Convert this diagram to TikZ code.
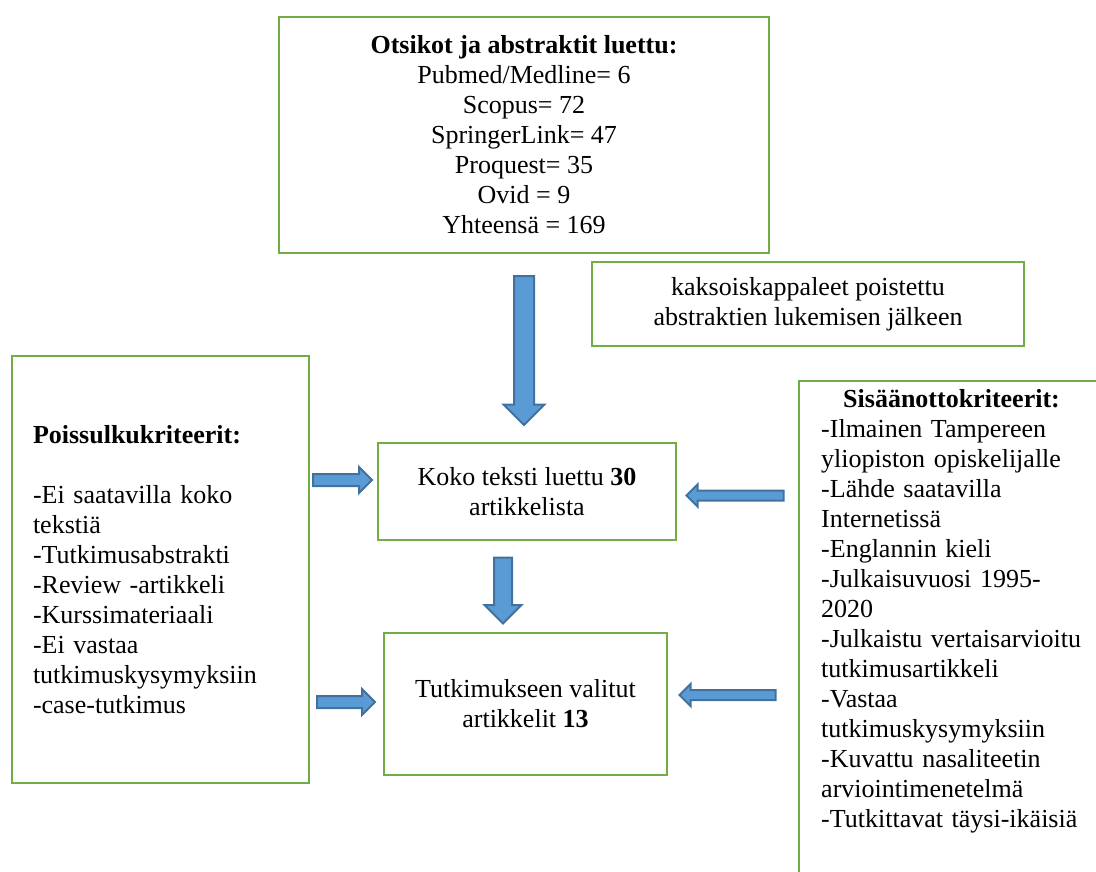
\documentclass[tikz,border=0pt]{standalone}
\usepackage{fontspec}
\setmainfont{Liberation Serif}
\usetikzlibrary{shapes.arrows,positioning}
\definecolor{boxgreen}{HTML}{70AD47}
\definecolor{arrowfill}{HTML}{5B9BD5}
\definecolor{arrowedge}{HTML}{41719C}
\tikzset{
    %Define style for boxes
    box/.style={
           rectangle,
           draw=boxgreen, line width=2.4pt,
           inner sep=0pt,
           font=\fontsize{26}{30}\selectfont,
           align=center},
    % Define block arrow style
    blockarrow/.style={
           single arrow,
           draw=arrowedge, line width=2pt,
           fill=arrowfill,
           inner xsep=0pt,
           single arrow tip angle=90},
    % Define style for the criteria text
    crit/.style={
           font=\fontsize{26}{30}\selectfont,
           inner sep=0pt,
           align=left}
}

\begin{document}
\begin{tikzpicture}[x=1pt, y=-1pt]
 \useasboundingbox (0,0) rectangle (1096,872);
 %boxes
    \node[box, minimum width=490, minimum height=236] (read) at (524,135)
        {\textbf{Otsikot ja abstraktit luettu:}\\ Pubmed/Medline= 6\\ Scopus= 72\\
         SpringerLink= 47\\ Proquest= 35\\ Ovid = 9\\ Yhteensä = 169};
    \node[box, minimum width=432, minimum height=84] (dupl) at (808,304)
        {kaksoiskappaleet poistettu\\ abstraktien lukemisen jälkeen};
    \node[box, minimum width=297, minimum height=427, text width=255, align=left] (excl) at (160.5,569.5)
        {\textbf{Poissulkukriteerit:}\\[30pt] -Ei saatavilla koko\\ tekstiä\\ -Tutkimusabstrakti\\
         -Review -artikkeli\\ -Kurssimateriaali\\ -Ei vastaa\\ tutkimuskysymyksiin\\ -case-tutkimus};
    \node[box, minimum width=298, minimum height=97] (full) at (527,491.5)
        {Koko teksti luettu \textbf{30}\\ artikkelista};
    \node[box, minimum width=283, minimum height=142] (chosen) at (525.5,704)
        {Tutkimukseen valitut\\ artikkelit \textbf{13}};
    \node[box, minimum width=307, minimum height=560, anchor=north west] (incl) at (798,380) {};
    \node[crit, text width=270, anchor=north west] (incltext) at (821,389)
        {\hspace*{22pt}\textbf{Sisäänottokriteerit:}\\ -Ilmainen Tampereen\\ yliopiston opiskelijalle\\
         -Lähde saatavilla\\ Internetissä\\ -Englannin kieli\\ -Julkaisuvuosi 1995-\\ 2020\\
         -Julkaistu vertaisarvioitu\\ tutkimusartikkeli\\ -Vastaa\\ tutkimuskysymyksiin\\
         -Kuvattu nasaliteetin\\ arviointimenetelmä\\ -Tutkittavat täysi-ikäisiä};
 %block arrows
    \node[blockarrow, rotate=-90, minimum height=149, inner ysep=9, single arrow head extend=10.5] (toFull) at (524,345.5) {};
    \node[blockarrow, rotate=-90, minimum height=66, inner ysep=8, single arrow head extend=9.5] (toChosen) at (503,586) {};
    \node[blockarrow, minimum height=59, inner ysep=5, single arrow head extend=7] (exclFull) at (339.5,480) {};
    \node[blockarrow, minimum height=58, inner ysep=5, single arrow head extend=7] (exclChosen) at (343,702) {};
    \node[blockarrow, rotate=180, minimum height=97, inner ysep=4, single arrow head extend=6] (inclFull) at (737.5,495.5) {};
    \node[blockarrow, rotate=180, minimum height=96, inner ysep=4, single arrow head extend=6] (inclChosen) at (730,695) {};
\end{tikzpicture}
\end{document}
